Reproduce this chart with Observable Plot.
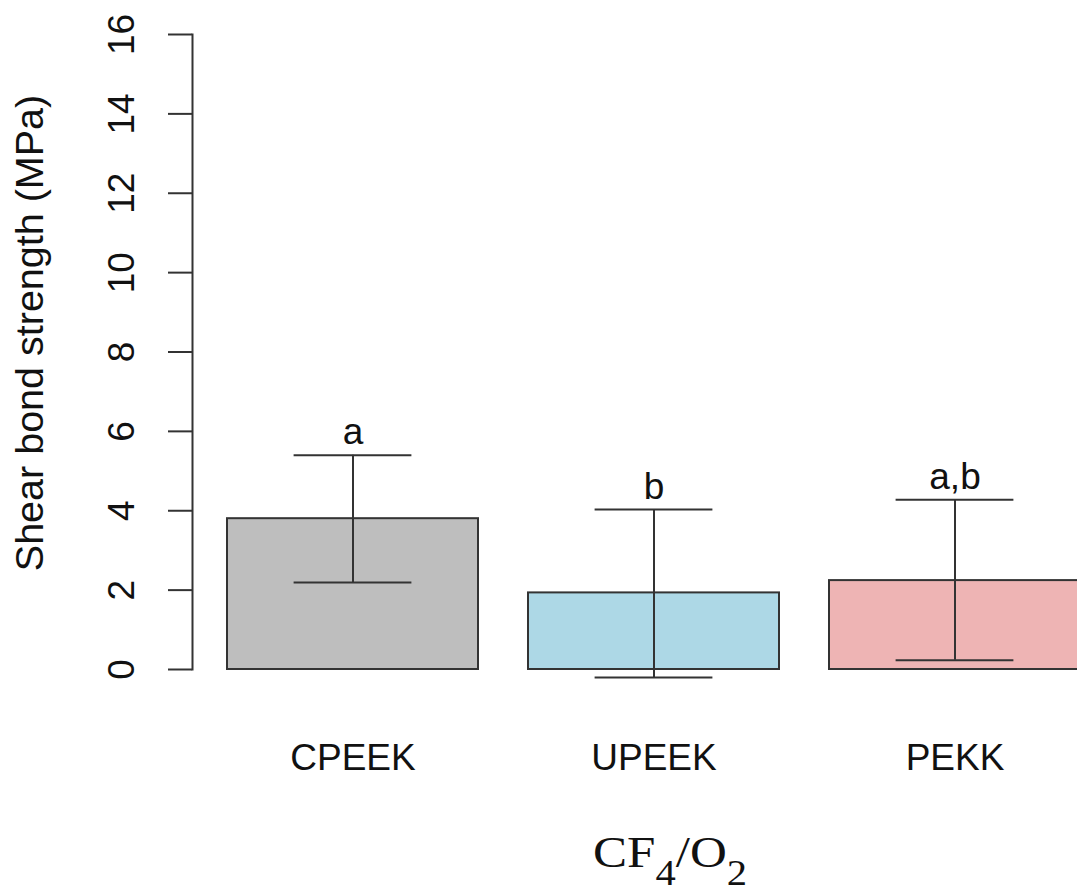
<!DOCTYPE html>
<html>
<head>
<meta charset="utf-8">
<script src="https://cdn.jsdelivr.net/npm/d3@7"></script>
<script src="https://cdn.jsdelivr.net/npm/@observablehq/plot@0.6"></script>
<style>
  html, body { margin: 0; padding: 0; background: #fff; }
  #wrap { position: relative; width: 1077px; height: 893px; overflow: hidden; }
  #caption {
    position: absolute; top: 831px; left: 670px;
    transform: translateX(-50%) scaleX(1.16);
    font-family: "Liberation Serif", "Times New Roman", serif;
    font-size: 44px; line-height: 1; color: #111; white-space: nowrap;
  }
  #caption sub { font-size: 35px; vertical-align: -18px; line-height: 0; }
</style>
</head>
<body>
<div id="wrap"></div>
<script>
const groups = ["CPEEK", "UPEEK", "PEKK"];
const means = [3.80, 1.93, 2.24];
const errLow = [2.19, -0.20, 0.23];
const errHigh = [5.40, 4.03, 4.28];
const letters = ["a", "b", "a,b"];
const yTicks = [0, 2, 4, 6, 8, 10, 12, 14, 16];
const yLabel = "Shear bond strength (MPa)";

const fillColors = ["#BEBEBE", "#ADD8E6", "#EEB4B4"];

const rows = groups.map((g, i) => ({group: g, mean: means[i], lo: errLow[i], hi: errHigh[i], letter: letters[i]}));

const font = "'Liberation Sans', Arial, Helvetica, sans-serif";
const ink = "#333";

const chart = Plot.plot({
  width: 1077,
  height: 830,
  marginTop: 34,
  marginBottom: 161,
  marginLeft: 192,
  marginRight: 0,
  style: {fontFamily: font, color: "#111", background: "#fff"},
  x: {domain: groups, range: [227, 1081], paddingInner: 0.166, paddingOuter: 0, label: null},
  y: {domain: [0, 16], label: null},
  color: {domain: groups, range: fillColors},
  marks: [
    Plot.barY(rows, {x: "group", y: "mean", fill: "group", stroke: ink, strokeWidth: 2}),
    Plot.ruleX(rows, {x: "group", y1: "lo", y2: "hi", stroke: ink, strokeWidth: 2}),
    Plot.tickY(rows, {x: "group", y: "lo", stroke: ink, strokeWidth: 2, insetLeft: 66.6, insetRight: 66.6}),
    Plot.tickY(rows, {x: "group", y: "hi", stroke: ink, strokeWidth: 2, insetLeft: 66.6, insetRight: 66.6}),
    Plot.text(rows, {x: "group", y: "hi", text: "letter", dy: -11, lineAnchor: "bottom", fontSize: 37, fill: "#111"}),
    Plot.frame({anchor: "left", stroke: ink, strokeWidth: 2}),
    Plot.axisY({ticks: yTicks, tickSize: 24, tickPadding: 46, tickRotate: -90, textAnchor: "middle", lineAnchor: "middle", fontSize: 37, stroke: ink, strokeWidth: 2, label: null, fill: "#111"}),
    Plot.axisX({tickSize: 0, tickPadding: 74, fontSize: 37, label: null, fill: "#111"}),
    Plot.text([yLabel], {text: d => d, frameAnchor: "left", rotate: -90, dx: -162, dy: -19, fontSize: 39.5, textAnchor: "middle", lineAnchor: "middle", fill: "#111"})
  ]
});

const wrap = document.getElementById("wrap");
wrap.appendChild(chart);
const cap = document.createElement("div");
cap.id = "caption";
cap.innerHTML = "CF<sub>4</sub>/O<sub>2</sub>";
wrap.appendChild(cap);
</script>
</body>
</html>
